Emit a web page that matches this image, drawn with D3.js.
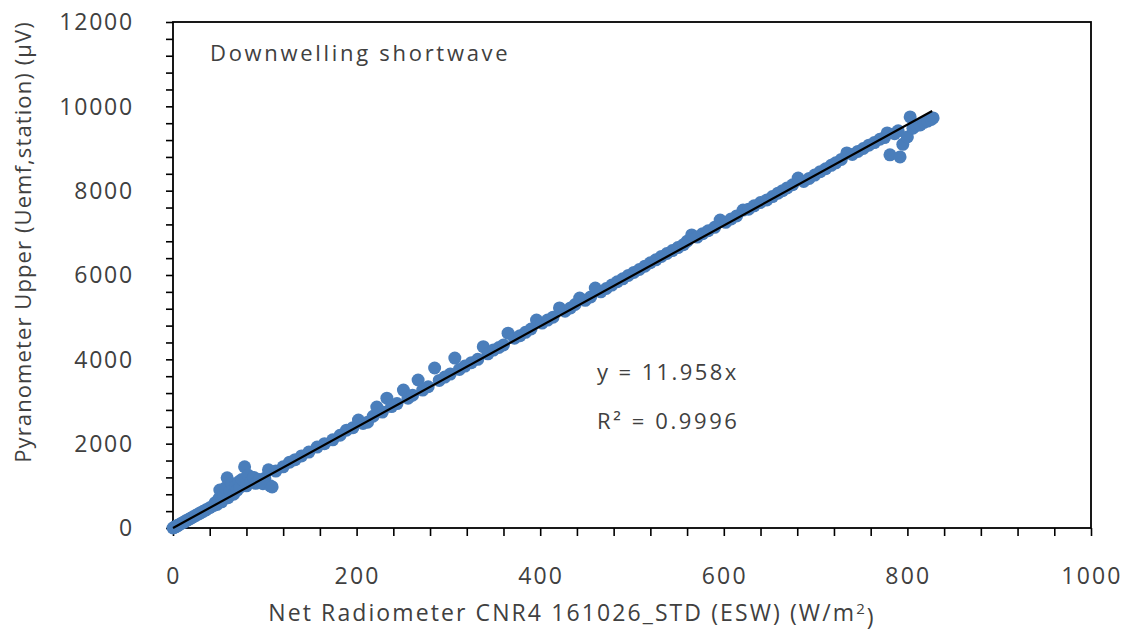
<!DOCTYPE html>
<html>
<head>
<meta charset="utf-8">
<script src="https://cdn.jsdelivr.net/npm/d3@7"></script>
<style>
  body { margin: 0; background: #fff; }
  text { font-family: "Open Sans", sans-serif; fill: #404040; }
</style>
</head>
<body>
<div class="scatter"></div>
<script>
// Chart values
var xValues = [0, 1, 2, 3, 4, 5, 6, 8, 10, 12, 14, 16, 18, 20, 22, 25, 28, 30, 33, 36, 40, 44, 46, 48, 50, 51, 53, 55, 57, 59,
    60, 62, 64, 66, 68, 70, 72, 73, 75, 78, 80, 82, 85, 88, 90, 94, 98, 100, 104, 106, 108, 112, 120, 127, 133, 140, 148, 157, 165, 174,
    182, 189, 196, 202, 207, 212, 218, 222, 228, 233, 238, 244, 251, 256, 261, 267, 272, 278, 285, 290, 296, 302, 307, 312, 318, 325, 332, 338, 343, 349,
    355, 360, 365, 372, 378, 384, 390, 396, 402, 408, 414, 421, 427, 433, 438, 443, 449, 455, 460, 466, 472, 478, 484, 490, 496, 502, 508, 514, 520, 526,
    532, 538, 544, 550, 556, 560, 565, 571, 577, 583, 590, 596, 602, 608, 614, 621, 627, 633, 640, 647, 653, 659, 664, 669, 675, 681, 687, 693, 699, 705,
    711, 717, 722, 728, 734, 740, 746, 752, 758, 764, 770, 775, 778, 781, 786, 790, 792, 795, 800, 803, 806, 810, 814, 818, 822, 826, 828];
var yValues = [0, 10, 25, 30, 45, 60, 70, 95, 120, 140, 170, 190, 215, 240, 265, 300, 335, 360, 395, 430, 480, 530, 600, 560, 700, 900, 620, 780, 950, 1190,
    720, 880, 1050, 800, 1000, 900, 1100, 970, 1150, 1450, 1000, 1250, 1100, 1200, 1060, 1150, 1050, 1180, 1380, 1000, 975, 1350, 1450, 1560, 1620, 1710, 1800, 1920, 2000, 2090,
    2200, 2320, 2380, 2560, 2480, 2510, 2650, 2870, 2750, 3080, 2880, 2950, 3270, 3080, 3150, 3510, 3270, 3350, 3795, 3500, 3580, 3650, 4030, 3760, 3840, 3920, 4000, 4300, 4130, 4220,
    4280, 4340, 4620, 4500, 4560, 4640, 4720, 4930, 4860, 4930, 5000, 5220, 5140, 5220, 5300, 5455, 5400, 5480, 5690, 5600, 5680, 5760, 5840, 5910, 5990, 6060, 6130, 6210, 6290, 6360,
    6440, 6510, 6580, 6650, 6720, 6800, 6950, 6900, 6980, 7050, 7130, 7305, 7250, 7330, 7400, 7540, 7560, 7640, 7720, 7780, 7860, 7940, 8000, 8065, 8140, 8300, 8220, 8290, 8370, 8450,
    8520, 8600, 8660, 8740, 8895, 8860, 8930, 9000, 9080, 9140, 9220, 9260, 9370, 8850, 9350, 9420, 8800, 9100, 9275, 9750, 9480, 9550, 9560, 9620, 9650, 9690, 9725];

// trendline y = 11.958x drawn over the data range
var trendSlope = 11.958;
var trendX = [0, 827];

var xTickLabels = [0, 200, 400, 600, 800, 1000];
var yTickLabels = [0, 2000, 4000, 6000, 8000, 10000, 12000];
var xMinorStep = 40;
var yMinorStep = 400;

var svgWidth = 1134;
var svgHeight = 632;

var margin = { top: 22, right: 43, bottom: 104, left: 173 };
var width = svgWidth - margin.left - margin.right;
var height = svgHeight - margin.top - margin.bottom;

var svg = d3.select(".scatter")
    .append("svg")
    .attr("width", svgWidth)
    .attr("height", svgHeight);

var chartGroup = svg.append("g")
    .attr("transform", `translate(${margin.left}, ${margin.top})`);

var xScale = d3.scaleLinear().domain([0, 1000]).range([0, width]);
var yScale = d3.scaleLinear().domain([0, 12000]).range([height, 0]);

// minor ticks (no labels)
var xAxisTicks = d3.axisBottom(xScale)
    .tickValues(d3.range(0, 1001, xMinorStep))
    .tickSize(8)
    .tickFormat("");
var yAxisTicks = d3.axisLeft(yScale)
    .tickValues(d3.range(0, 12001, yMinorStep))
    .tickSize(7)
    .tickFormat("");

var gx = chartGroup.append("g")
    .attr("transform", `translate(0, ${height})`)
    .call(xAxisTicks);
var gy = chartGroup.append("g").call(yAxisTicks);

[gx, gy].forEach(function(g) {
    g.select(".domain").remove();
    g.selectAll("line").attr("stroke", "#000").attr("stroke-width", 1.6);
});

// tick labels
chartGroup.selectAll(".xlab")
    .data(xTickLabels)
    .enter()
    .append("text")
    .attr("x", d => xScale(d) + 1)
    .attr("y", height + 56)
    .attr("text-anchor", "middle")
    .style("font-size", "23px")
    .style("letter-spacing", "2.2px")
    .text(d => d);

chartGroup.selectAll(".ylab")
    .data(yTickLabels)
    .enter()
    .append("text")
    .attr("x", -39)
    .attr("y", d => yScale(d))
    .attr("dy", "0.36em")
    .attr("text-anchor", "end")
    .style("font-size", "23px")
    .style("letter-spacing", "1.8px")
    .text(d => d);

// frame
chartGroup.append("rect")
    .attr("width", width)
    .attr("height", height)
    .attr("fill", "none")
    .attr("stroke", "#000")
    .attr("stroke-width", 1.8);

// points
var points = xValues.map((x, i) => ({ x: x, y: yValues[i] }));
chartGroup.selectAll("circle")
    .data(points)
    .enter()
    .append("circle")
    .attr("cx", d => xScale(d.x))
    .attr("cy", d => yScale(d.y))
    .attr("r", 6.5)
    .attr("fill", "#4a7ebb");

// trendline
chartGroup.append("line")
    .attr("x1", xScale(trendX[0]))
    .attr("y1", yScale(trendX[0] * trendSlope))
    .attr("x2", xScale(trendX[1]))
    .attr("y2", yScale(trendX[1] * trendSlope))
    .attr("stroke", "#000")
    .attr("stroke-width", 2.2);

// annotations
svg.append("text")
    .attr("x", 210)
    .attr("y", 61)
    .style("font-size", "22px")
    .style("letter-spacing", "2.7px")
    .text("Downwelling shortwave");

svg.append("text")
    .attr("x", 597)
    .attr("y", 380)
    .style("font-size", "22px")
    .style("letter-spacing", "2.4px")
    .text("y = 11.958x");

svg.append("text")
    .attr("x", 597)
    .attr("y", 429)
    .style("font-size", "22px")
    .style("letter-spacing", "2.6px")
    .text("R\u00b2 = 0.9996");

// axis titles
var xTitle = svg.append("text")
    .attr("x", 572)
    .attr("y", 621)
    .attr("text-anchor", "middle")
    .style("font-size", "23px")
    .style("letter-spacing", "2.1px");
xTitle.append("tspan").text("Net Radiometer CNR4 161026_STD (ESW) (W/m");
xTitle.append("tspan").attr("dy", "-0.45em").style("font-size", "15px").text("2");
xTitle.append("tspan").attr("dy", "0.45em").text(")");

svg.append("text")
    .attr("transform", "translate(31, 242) rotate(-90)")
    .attr("text-anchor", "middle")
    .style("font-size", "22px")
    .style("letter-spacing", "1.1px")
    .text("Pyranometer Upper (Uemf,station) (\u00b5V)");
</script>
</body>
</html>
